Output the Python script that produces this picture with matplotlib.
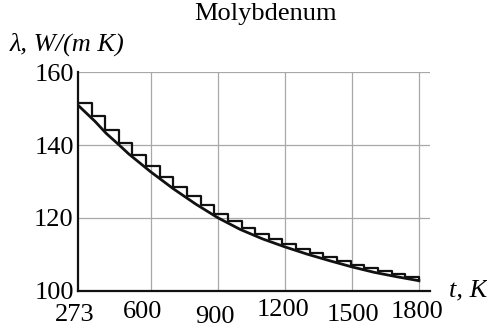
import matplotlib
matplotlib.use("Agg")
import matplotlib.pyplot as plt
from matplotlib.transforms import blended_transform_factory

plt.rcParams['font.family'] = ['Liberation Serif', 'DejaVu Serif']

# smooth curve lambda(t)
curve_t = [273, 350, 400, 458, 500, 600, 700, 800, 900, 1000, 1100, 1200,
           1300, 1400, 1500, 1600, 1700, 1800]
curve_lam = [151.0, 146.5, 143.2, 140.0, 137.6, 132.6, 128.0, 123.8, 120.0,
             116.8, 114.2, 112.0, 110.0, 108.2, 106.5, 105.0, 103.8, 102.7]

# staircase (left edge of each step and its level)
step_t = [273, 334, 395, 456, 517, 578, 640, 701, 762, 823, 884, 945, 1006,
          1067, 1128, 1189, 1250, 1311, 1372, 1434, 1495, 1556, 1617, 1678,
          1739, 1800]
step_lam = [151.6, 148.0, 144.1, 140.7, 137.4, 134.2, 131.2, 128.5, 125.9,
            123.4, 121.1, 119.0, 117.1, 115.5, 114.1, 112.8, 111.5, 110.3,
            109.2, 108.1, 107.1, 106.2, 105.3, 104.5, 103.8, 102.7]

xticks = [273, 600, 900, 1200, 1500, 1800]
yticks = [100, 120, 140, 160]
# small hand-placed shifts of the x tick labels (points)
xlab_dx = [-2, -6, -2, -1, 1, -1]
xlab_dy = [0, 1.8, -1.4, 3.2, 0, 1.8]

fig = plt.figure(figsize=(4.87, 3.29), dpi=100)
ax = fig.add_axes([0.160, 0.117, 0.723, 0.663])

ax.set_xlim(273, 1850)
ax.set_ylim(100, 160)

# grid
for t in xticks[1:]:
    ax.plot([t, t], [100, 160], color='#a8a8a8', lw=0.9, zorder=1)
for v in yticks[1:]:
    ax.axhline(v, color='#a8a8a8', lw=0.9, zorder=1)

ax.step(step_t, step_lam, where='post', color='#111111', lw=1.6, zorder=3)
ax.plot(curve_t, curve_lam, color='#111111', lw=2.0, zorder=4)

ax.spines['top'].set_visible(False)
ax.spines['right'].set_visible(False)
ax.spines['left'].set_linewidth(1.6)
ax.spines['bottom'].set_linewidth(1.6)
ax.spines['left'].set_color('#111111')
ax.spines['bottom'].set_color('#111111')

ax.set_xticks([])
ax.set_yticks(yticks)
ax.set_yticklabels([str(v) for v in yticks], fontsize=19)
ax.tick_params(axis='y', length=0, pad=3)

tr = blended_transform_factory(ax.transData, ax.transAxes)
for t, dx, dy in zip(xticks, xlab_dx, xlab_dy):
    ax.annotate(str(t), xy=(t, 0), xycoords=tr, xytext=(dx, -9.5 + dy),
                textcoords='offset points', ha='center', va='top', fontsize=19)

fig.text(0.02, 0.865, 'λ, W/(m K)', fontsize=19, style='italic', ha='left', va='center')
fig.text(0.922, 0.118, 't, K', fontsize=19, style='italic', ha='left', va='center')
fig.text(0.545, 0.958, 'Molybdenum', fontsize=19, ha='center', va='center')

fig.savefig('out.png', dpi=100)
